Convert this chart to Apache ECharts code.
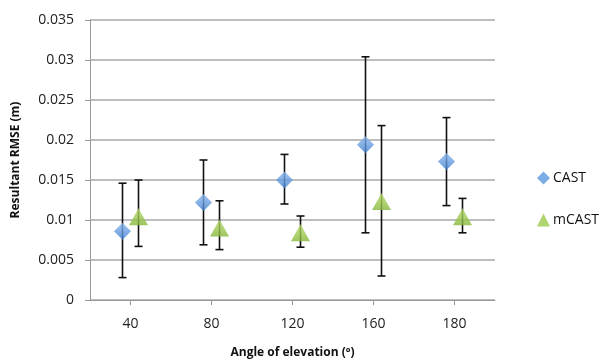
<!DOCTYPE html>
<html><head><meta charset="utf-8">
<script src="https://cdn.jsdelivr.net/npm/echarts@6/dist/echarts.min.js"></script>
<style>html,body{margin:0;padding:0;background:#fff}#c{width:607px;height:361px}</style>
</head><body><div id="c"></div>
<script>
const categories = ['40', '80', '120', '160', '180'];
const castValues = [0.0086, 0.0122, 0.0150, 0.0194, 0.0173];
const castLow    = [0.0028, 0.0069, 0.0120, 0.0084, 0.0118];
const castHigh   = [0.0146, 0.0175, 0.0182, 0.0304, 0.0228];
const mcastValues = [0.0104, 0.0090, 0.0084, 0.0123, 0.0104];
const mcastLow    = [0.0067, 0.0063, 0.0066, 0.0030, 0.0084];
const mcastHigh   = [0.0150, 0.0124, 0.0105, 0.0218, 0.0127];

const chart = echarts.init(document.getElementById('c'), null, {renderer: 'canvas'});
const FONT = '"Open Sans", "Liberation Sans", sans-serif';

function errBar(offset) {
  return function (params, api) {
    const i = api.value(0);
    const lo = api.coord([i, api.value(1)]);
    const hi = api.coord([i, api.value(2)]);
    const x = lo[0] + offset;
    const cap = 4;
    const style = {stroke: '#111', lineWidth: 1.6};
    return {type: 'group', children: [
      {type: 'line', shape: {x1: x, y1: hi[1], x2: x, y2: lo[1]}, style},
      {type: 'line', shape: {x1: x - cap, y1: hi[1], x2: x + cap, y2: hi[1]}, style},
      {type: 'line', shape: {x1: x - cap, y1: lo[1], x2: x + cap, y2: lo[1]}, style}
    ]};
  };
}

const blue = new echarts.graphic.LinearGradient(0, 0, 0, 1, [
  {offset: 0, color: '#8cb8ee'}, {offset: 1, color: '#3f7fd0'}]);
const green = new echarts.graphic.LinearGradient(0, 0, 0, 1, [
  {offset: 0, color: '#b7dc6a'}, {offset: 1, color: '#86b63a'}]);

chart.setOption({
  animation: false,
  backgroundColor: '#fff',
  grid: {left: 90, right: 112, top: 20, bottom: 61, containLabel: false, outerBoundsMode: 'none'},
  legend: {
    orient: 'vertical', left: 532, top: 166, itemGap: 28,
    itemWidth: 13, itemHeight: 13,
    textStyle: {fontFamily: FONT, fontSize: 14, color: '#111', padding: [0, 0, 0, -2]},
    data: [{name: 'CAST', icon: 'diamond', itemStyle: {color: '#5b97de'}},
           {name: 'mCAST', icon: 'triangle', itemStyle: {color: '#9bc94a'}}]
  },
  xAxis: {
    type: 'category', data: categories, boundaryGap: true,
    name: 'Angle of elevation (º)', nameLocation: 'middle', nameGap: 47,
    nameTextStyle: {fontFamily: FONT, fontSize: 12, fontWeight: 'bold', color: '#111'},
    axisLine: {lineStyle: {color: '#999', width: 1}},
    axisTick: {show: true, alignWithLabel: true, length: 5, lineStyle: {color: '#999'}},
    axisLabel: {fontFamily: FONT, fontSize: 14, color: '#222', margin: 17},
    splitLine: {show: false}
  },
  yAxis: {
    type: 'value', min: 0, max: 0.035, interval: 0.005,
    name: 'Resultant RMSE (m)', nameLocation: 'middle', nameGap: 68, nameRotate: 90,
    nameTextStyle: {fontFamily: FONT, fontSize: 12, fontWeight: 'bold', color: '#111'},
    axisLine: {show: true, lineStyle: {color: '#999', width: 1}},
    axisTick: {show: true, length: 5, lineStyle: {color: '#999'}},
    axisLabel: {fontFamily: FONT, fontSize: 14, color: '#222', margin: 16},
    splitLine: {lineStyle: {color: '#a8a8a8', width: 1.5}}
  },
  series: [
    {type: 'custom', name: 'castErr', renderItem: errBar(-8), z: 2,
     data: categories.map((c, i) => [i, castLow[i], castHigh[i]]), silent: true},
    {type: 'custom', name: 'mcastErr', renderItem: errBar(8), z: 2,
     data: categories.map((c, i) => [i, mcastLow[i], mcastHigh[i]]), silent: true},
    {type: 'scatter', name: 'CAST', symbol: 'diamond', symbolSize: [17, 17],
     symbolOffset: [-8, 0], z: 5, itemStyle: {color: blue},
     data: castValues},
    {type: 'scatter', name: 'mCAST', symbol: 'triangle', symbolSize: [19, 17],
     symbolOffset: [8, 0], z: 5, itemStyle: {color: green},
     data: mcastValues}
  ]
});
</script></body></html>
